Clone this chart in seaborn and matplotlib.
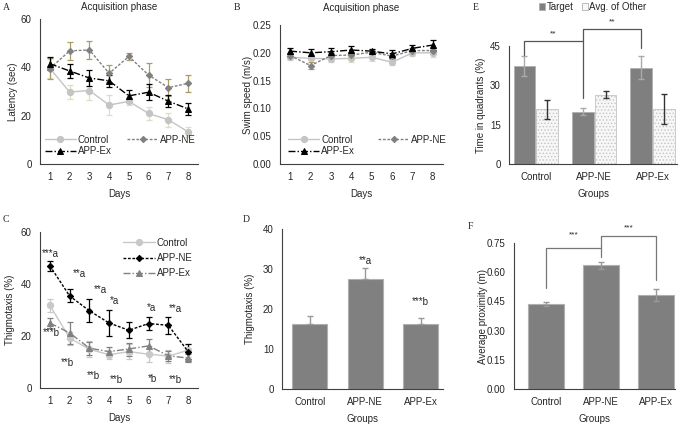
import pandas as pd
import matplotlib
matplotlib.use("Agg")
import matplotlib.pyplot as plt
import seaborn as sns

sns.set_style("white")
plt.rcParams["font.family"] = ["Liberation Sans", "DejaVu Sans"]
plt.rcParams["font.size"] = 7
plt.rcParams["hatch.linewidth"] = 0.6

# ---- data ----
days = [1, 2, 3, 4, 5, 6, 7, 8]
groups = ["Control", "APP-NE", "APP-Ex"]

# A: latency
lat_ctrl = [39.6, 29.8, 30.4, 24.4, 25.9, 20.9, 18.3, 13.3]
lat_ctrl_err = [4.0, 3.0, 4.0, 4.0, 1.5, 2.5, 3.0, 2.0]
lat_ne = [39.5, 46.8, 47.2, 37.5, 44.5, 36.8, 31.6, 33.4]
lat_ne_err = [4.2, 3.8, 3.7, 3.5, 1.3, 4.8, 3.4, 3.4]
lat_ex = [41.5, 38.5, 35.6, 34.4, 28.2, 29.7, 26.0, 22.8]
lat_ex_err = [2.8, 3.0, 3.3, 2.5, 2.4, 3.4, 2.5, 2.5]

# B: swim speed
spd_ctrl = [0.192, 0.190, 0.189, 0.190, 0.192, 0.183, 0.200, 0.200]
spd_ctrl_err = [0.005, 0.006, 0.006, 0.006, 0.006, 0.005, 0.006, 0.007]
spd_ne = [0.195, 0.177, 0.195, 0.196, 0.201, 0.194, 0.204, 0.204]
spd_ne_err = [0.004, 0.006, 0.005, 0.006, 0.004, 0.006, 0.005, 0.005]
spd_ex = [0.203, 0.200, 0.202, 0.205, 0.203, 0.198, 0.208, 0.214]
spd_ex_err = [0.005, 0.006, 0.007, 0.008, 0.004, 0.007, 0.006, 0.009]

# C: thigmotaxis by day
thg_ctrl = [31.8, 19.2, 14.9, 12.8, 14.0, 13.0, 12.3, 14.5]
thg_ctrl_err = [2.5, 2.5, 3.0, 1.5, 2.8, 3.0, 2.5, 2.5]
thg_ne = [47.0, 35.4, 29.7, 25.0, 22.2, 24.8, 24.1, 14.0]
thg_ne_err = [2.0, 2.5, 4.4, 5.0, 3.0, 2.5, 3.3, 3.0]
thg_ex = [25.0, 21.2, 15.3, 14.0, 15.0, 16.2, 12.4, 11.5]
thg_ex_err = [2.0, 4.3, 2.5, 1.8, 2.5, 2.6, 2.0, 1.5]
thg_a_labels = ["***a", "**a", "**a", "*a", "*a", "**a"]
thg_a_x = [1.0, 2.5, 3.55, 4.25, 6.15, 7.35]
thg_a_y = [51.7, 43.7, 37.6, 33.6, 30.6, 30.5]
thg_b_labels = ["***b", "**b", "**b", "**b", "*b", "**b"]
thg_b_x = [1.05, 1.9, 3.2, 4.35, 6.2, 7.35]
thg_b_y = [21.0, 9.6, 4.5, 3.2, 3.5, 3.2]

# D: thigmotaxis totals
thg_bar = [16.3, 27.5, 16.2]
thg_bar_err = [2.0, 2.7, 1.6]
thg_bar_labels = ["", "**a", "***b"]
thg_bar_label_y = [0, 32.0, 21.7]

# E: time in quadrants
quad_target = [37.4, 19.9, 36.8]
quad_target_err = [3.8, 1.3, 4.4]
quad_other = [20.8, 26.5, 20.9]
quad_other_err = [3.7, 1.4, 5.7]

# F: average proximity
prox = [0.437, 0.636, 0.484]
prox_err = [0.012, 0.018, 0.030]

W, H = 685, 425
fig = plt.figure(figsize=(W / 100, H / 100), dpi=100)


def add_ax(x0, y0, x1, y1):
    return fig.add_axes([x0 / W, 1 - y1 / H, (x1 - x0) / W, (y1 - y0) / H])


def style_ax(ax, wpx, hpx, ylab_off, xlabel, ylabel):
    sns.despine(ax=ax)
    for s in ["left", "bottom"]:
        ax.spines[s].set_color("#404040")
        ax.spines[s].set_linewidth(0.8)
    ax.tick_params(axis="y", length=3, width=0.8, color="#404040", pad=3, labelsize=7)
    ax.tick_params(axis="x", length=0, pad=6, labelsize=7)
    ax.set_xlabel(xlabel, fontsize=7)
    ax.set_ylabel(ylabel, fontsize=7)
    ax.xaxis.set_label_coords(0.5, -25 / hpx)
    ax.yaxis.set_label_coords(-(ylab_off - 8) / wpx, 0.5)
    ax.grid(False)


def draw_lines(ax, x, series):
    for vals, err, lab, col, ecol, mk, ls, ms in series:
        sns.lineplot(x=x, y=vals, ax=ax, color=col, marker=mk, linestyle=ls,
                     markersize=ms, markeredgecolor=col, linewidth=1, label=lab)
        ax.errorbar(x, vals, yerr=err, fmt="none", ecolor=ecol, elinewidth=0.9,
                    capsize=2, capthick=0.9, zorder=1)


# ---- A ----
axA = add_ax(40, 19, 198, 164)
draw_lines(axA, days, [
    (lat_ctrl, lat_ctrl_err, "Control", "#c4c4c4", "#e2dcc0", "o", "-", 4.5),
    (lat_ne, lat_ne_err, "APP-NE", "#808080", "#a99c66", "D", (0, (2, 1.2)), 3.2),
    (lat_ex, lat_ex_err, "APP-Ex", "black", "black", "^", (0, (5, 1.5, 1, 1.5)), 4.2),
])
axA.set_xlim(0.5, 8.5)
axA.set_ylim(0, 60)
axA.set_yticks([0, 20, 40, 60])
axA.set_xticks(days)
style_ax(axA, 158, 145, 30, "Days", "Latency (sec)")
axA.set_title("Acquisition phase", fontsize=7, pad=6.5)
h, l = axA.get_legend_handles_labels()
axA.legend([h[0], h[2], h[1]], [l[0], l[2], l[1]], ncol=2, loc="lower left",
           bbox_to_anchor=(0.0, 0.02), frameon=False, fontsize=7,
           handlelength=3.2, handletextpad=0.2, columnspacing=1.6,
           labelspacing=0.15, borderaxespad=0.1)

# ---- B ----
axB = add_ax(280, 25, 443, 164)
draw_lines(axB, days, [
    (spd_ctrl, spd_ctrl_err, "Control", "#c4c4c4", "#e2dcc0", "o", "-", 4.5),
    (spd_ne, spd_ne_err, "APP-NE", "#808080", "#a99c66", "D", (0, (2, 1.2)), 3.2),
    (spd_ex, spd_ex_err, "APP-Ex", "black", "black", "^", (0, (5, 1.5, 1, 1.5)), 4.2),
])
axB.set_xlim(0.5, 8.5)
axB.set_ylim(0, 0.25)
axB.set_yticks([0, 0.05, 0.10, 0.15, 0.20, 0.25])
axB.set_yticklabels(["0.00", "0.05", "0.10", "0.15", "0.20", "0.25"])
axB.set_xticks(days)
style_ax(axB, 163, 139, 35, "Days", "Swim speed (m/s)")
axB.set_title("Acquisition phase", fontsize=7, pad=10)
h, l = axB.get_legend_handles_labels()
axB.legend([h[0], h[2], h[1]], [l[0], l[2], l[1]], ncol=2, loc="lower left",
           bbox_to_anchor=(0.02, 0.02), frameon=False, fontsize=7,
           handlelength=3.2, handletextpad=0.2, columnspacing=2.4,
           labelspacing=0.15, borderaxespad=0.1)

# ---- C ----
axC = add_ax(40, 232, 198, 388)
draw_lines(axC, days, [
    (thg_ctrl, thg_ctrl_err, "Control", "#c8c8c8", "#c8c8c8", "o", "-", 4.5),
    (thg_ne, thg_ne_err, "APP-NE", "black", "black", "D", (0, (2, 1.2)), 3.2),
    (thg_ex, thg_ex_err, "APP-Ex", "#808080", "#808080", "^", (0, (5, 1.5, 1, 1.5)), 4.2),
])
axC.set_xlim(0.5, 8.5)
axC.set_ylim(0, 60)
axC.set_yticks([0, 20, 40, 60])
axC.set_xticks(days)
style_ax(axC, 158, 156, 33, "Days", "Thigmotaxis (%)")
for t, x, y in zip(thg_a_labels, thg_a_x, thg_a_y):
    axC.text(x, y, t, ha="center", va="center", fontsize=7)
for t, x, y in zip(thg_b_labels, thg_b_x, thg_b_y):
    axC.text(x, y, t, ha="center", va="center", fontsize=7)
axC.legend(loc="upper right", bbox_to_anchor=(1.02, 1.02), frameon=False,
           fontsize=7, handlelength=3.2, handletextpad=0.2, labelspacing=0.55)

# ---- D ----
axD = add_ax(282, 229, 443, 389)
sns.barplot(x=groups, y=thg_bar, color="#808080", width=0.63, ax=axD,
            edgecolor="#b0b0b0", linewidth=0.8, saturation=1)
xs = [p.get_x() + p.get_width() / 2 for p in axD.patches]
axD.errorbar(xs, thg_bar, yerr=[[0] * 3, thg_bar_err], fmt="none",
             ecolor="#999999", elinewidth=1, capsize=2, capthick=1)
for x, t, y in zip(xs, thg_bar_labels, thg_bar_label_y):
    if t:
        axD.text(x, y, t, ha="center", va="center", fontsize=7)
axD.set_xlim(-0.5, 2.4)
axD.set_ylim(0, 40)
axD.set_yticks([0, 10, 20, 30, 40])
style_ax(axD, 161, 160, 35, "Groups", "Thigmotaxis (%)")

# ---- E ----
axE = add_ax(509, 46, 677, 164)
quad_df = pd.DataFrame({
    "Group": groups * 2,
    "Quadrant": ["Target"] * 3 + ["Avg. of Other"] * 3,
    "Value": quad_target + quad_other,
})
sns.barplot(data=quad_df, x="Group", y="Value", hue="Quadrant",
            palette=["#7f7f7f", "#f7f7f7"], width=0.78, gap=0.04, ax=axE,
            saturation=1, edgecolor="#b0b0b0", linewidth=0.6)
for p in axE.containers[1].patches:
    p.set_hatch(".....")
    p.set_edgecolor("#c4c4c4")
tx = [p.get_x() + p.get_width() / 2 for p in axE.containers[0].patches]
ox = [p.get_x() + p.get_width() / 2 for p in axE.containers[1].patches]
axE.errorbar(tx, quad_target, yerr=quad_target_err, fmt="none", ecolor="#aaaaaa",
             elinewidth=1, capsize=2, capthick=1)
axE.errorbar(ox, quad_other, yerr=quad_other_err, fmt="none", ecolor="#333333",
             elinewidth=1, capsize=2, capthick=1)
bc = "#555555"
axE.plot([tx[0], tx[0], tx[1], tx[1]], [41.6, 47.0, 47.0, 25.0], color=bc,
         lw=0.9, clip_on=False)
axE.plot([tx[1], tx[1], tx[2], tx[2]], [47.0, 51.4, 51.4, 44.1], color=bc,
         lw=0.9, clip_on=False)
axE.text((tx[0] + tx[1]) / 2, 49.8, "**", ha="center", va="center", fontsize=6)
axE.text((tx[1] + tx[2]) / 2, 54.3, "**", ha="center", va="center", fontsize=6)
axE.set_xlim(-0.46, 2.42)
axE.set_ylim(0, 45)
axE.set_yticks([0, 15, 30, 45])
style_ax(axE, 168, 118, 31, "Groups", "Time in quadrants (%)")
h, l = axE.get_legend_handles_labels()
axE.legend(h, l, loc="center", bbox_to_anchor=(0.5, 1 + 39 / 118), ncol=2,
           frameon=False, fontsize=7, handlelength=0.6, handleheight=0.6,
           handletextpad=0.2, columnspacing=0.8)

# ---- F ----
axF = add_ax(514, 243, 675, 389)
sns.barplot(x=groups, y=prox, color="#7f7f7f", width=0.65, ax=axF,
            edgecolor="#b0b0b0", linewidth=0.8, saturation=1)
fx = [p.get_x() + p.get_width() / 2 for p in axF.patches]
axF.errorbar(fx, prox, yerr=prox_err, fmt="none", ecolor="#999999",
             elinewidth=1, capsize=2, capthick=1)
bc = "#777777"
axF.plot([fx[0], fx[0], fx[1], fx[1]], [0.517, 0.723, 0.723, 0.68], color=bc,
         lw=0.9, clip_on=False)
axF.plot([fx[1], fx[1], fx[2], fx[2]], [0.723, 0.786, 0.786, 0.56], color=bc,
         lw=0.9, clip_on=False)
axF.text((fx[0] + fx[1]) / 2, 0.79, "***", ha="center", va="center", fontsize=6)
axF.text((fx[1] + fx[2]) / 2, 0.827, "***", ha="center", va="center", fontsize=6)
axF.set_xlim(-0.58, 2.35)
axF.set_ylim(0, 0.75)
axF.set_yticks([0, 0.15, 0.30, 0.45, 0.60, 0.75])
axF.set_yticklabels(["0.00", "0.15", "0.30", "0.45", "0.60", "0.75"])
style_ax(axF, 161, 146, 34, "Groups", "Average proximity (m)")

# panel letters
for t, x, y in [("A", 6, 8), ("B", 237, 8), ("E", 476, 8),
                ("C", 6, 219), ("D", 246, 219), ("F", 470, 227)]:
    fig.text(x / W, 1 - y / H, t, fontsize=7, family="Liberation Serif",
             ha="center", va="center")

fig.savefig("out.png", dpi=100)
